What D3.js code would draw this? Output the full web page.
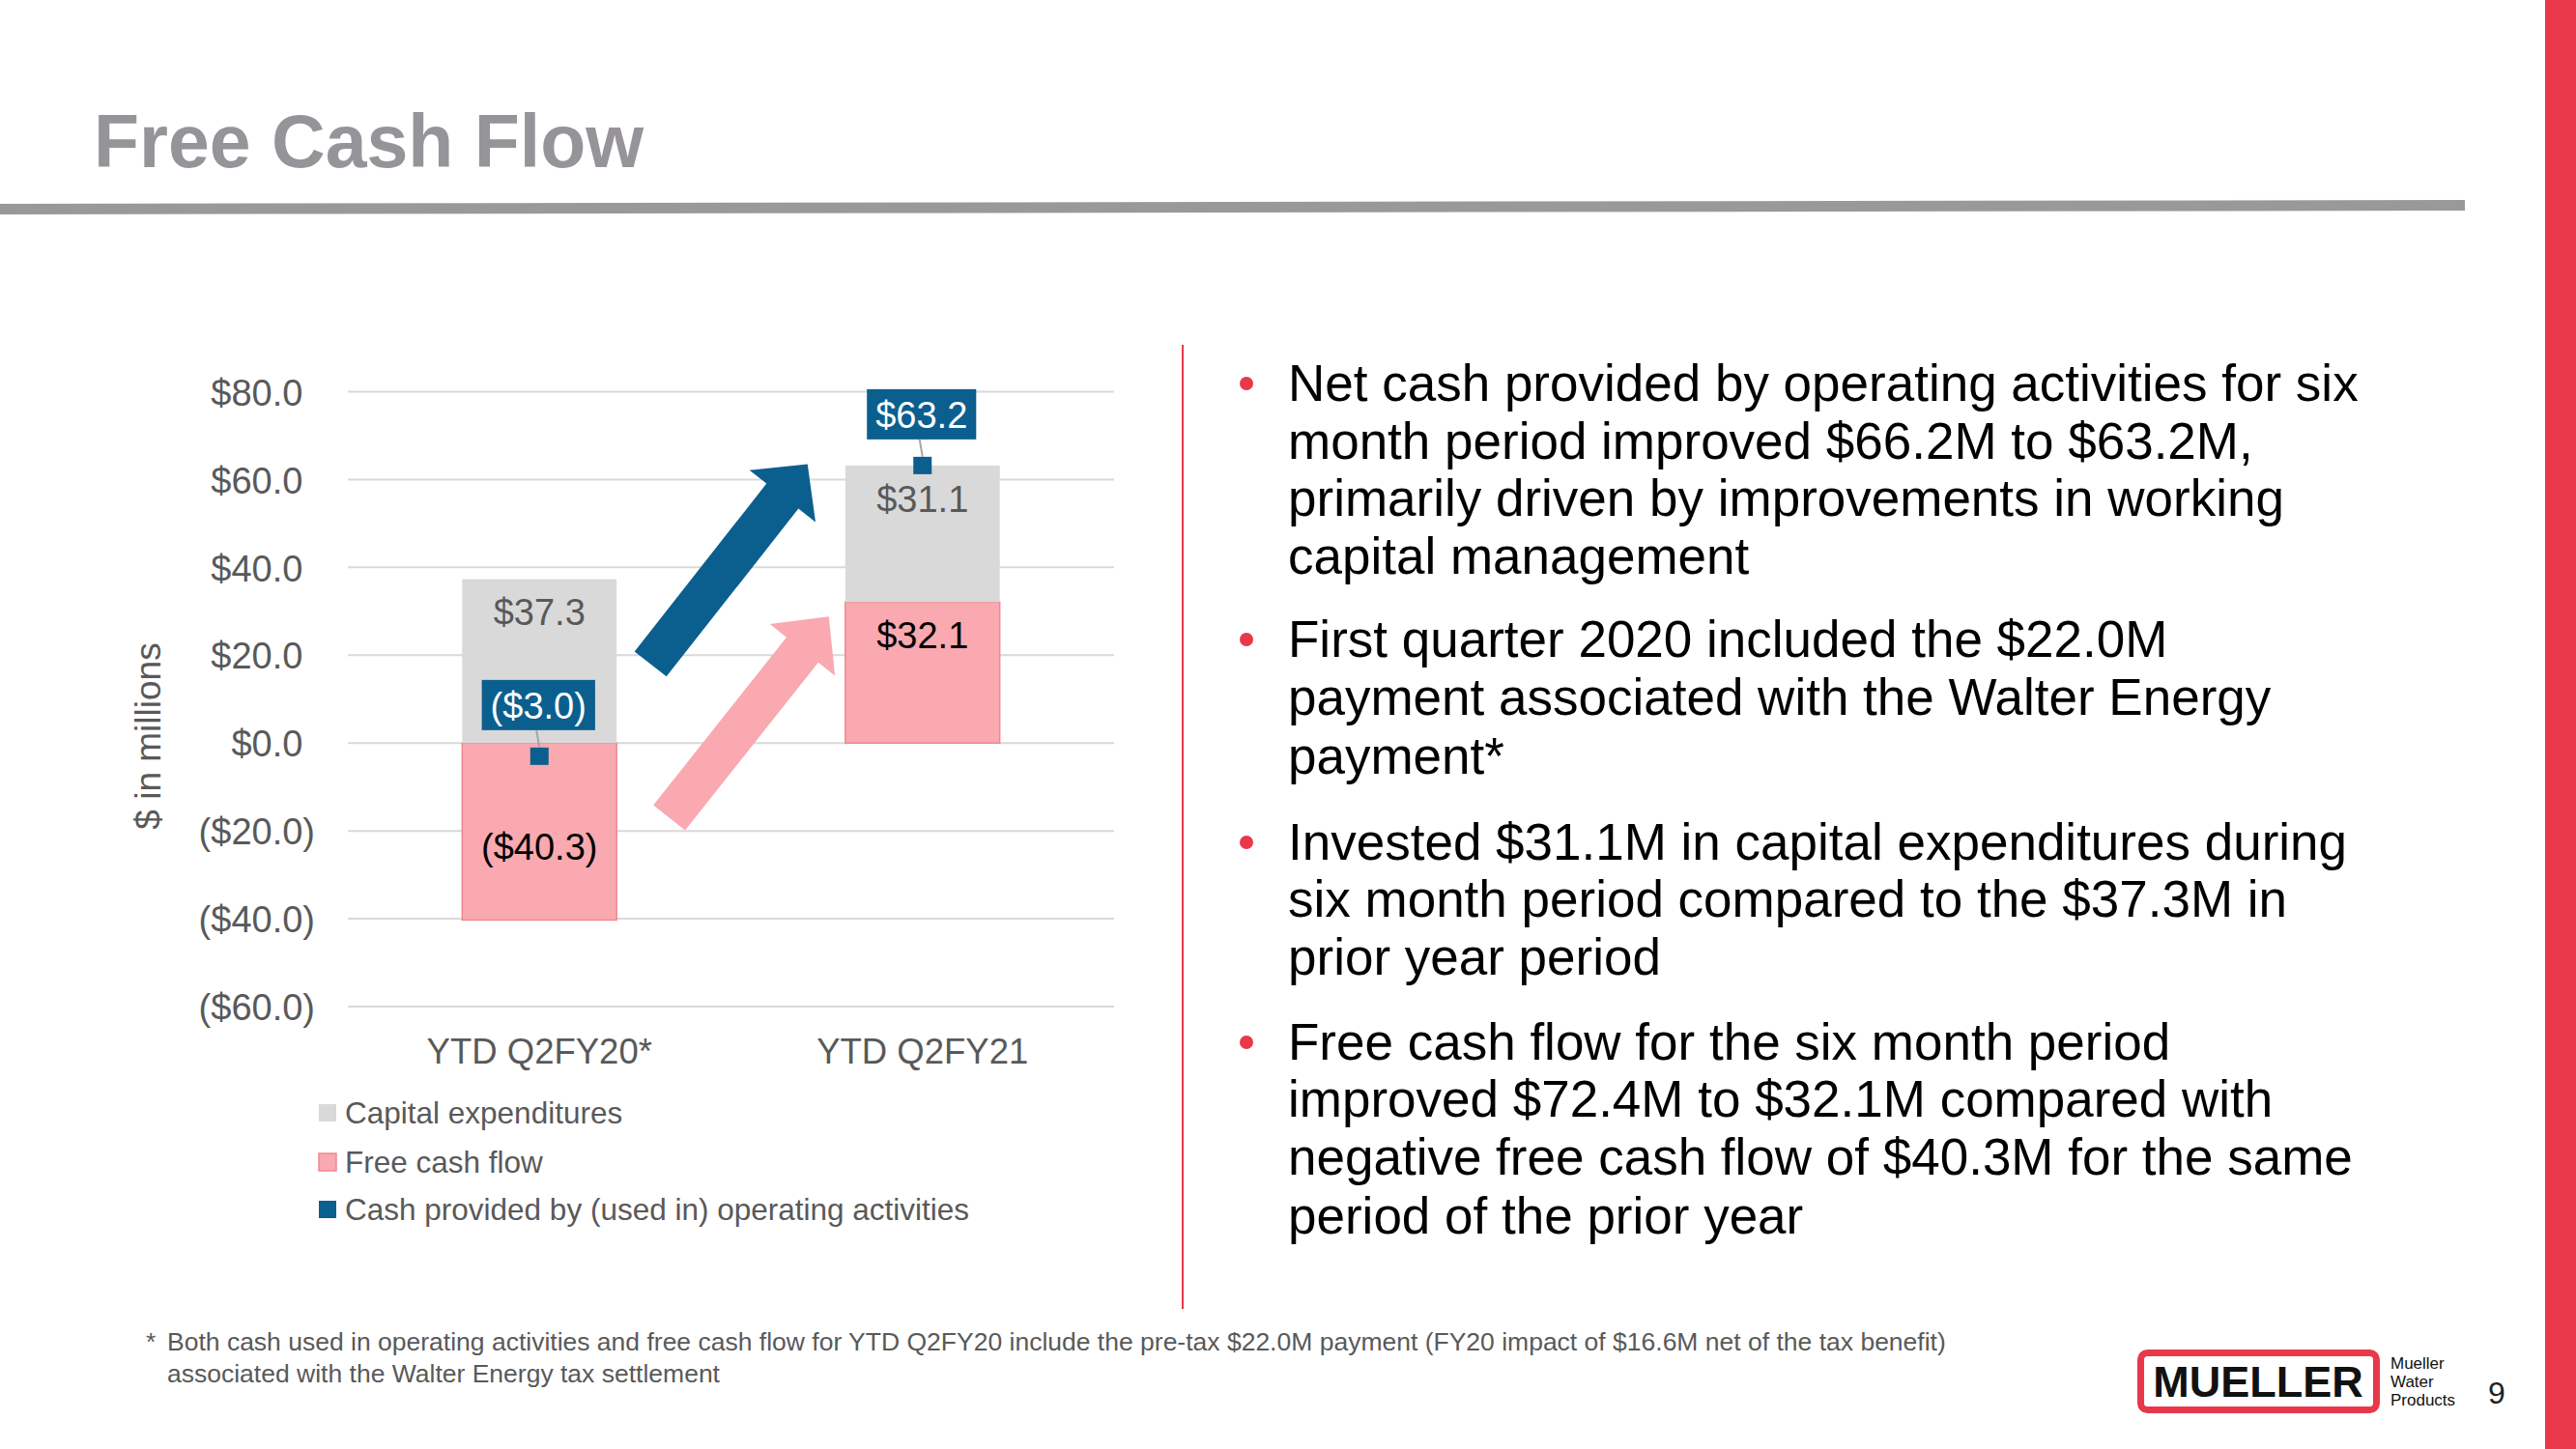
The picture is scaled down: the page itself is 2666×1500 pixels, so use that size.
<!DOCTYPE html>
<html>
<head>
<meta charset="utf-8">
<script src="https://cdn.jsdelivr.net/npm/d3@7"></script>
<style>
  html, body { margin: 0; padding: 0; background: #fff; }
  svg { display: block; }
  text { font-family: "Liberation Sans", Arial, sans-serif; }
</style>
</head>
<body>
<svg id="slide" width="2666" height="1500"></svg>
<script>
// ---------------- DATA ----------------
const categories = ["YTD Q2FY20*", "YTD Q2FY21"];
const capex = [37.3, 31.1];            // Capital expenditures
const freeCashFlow = [-40.3, 32.1];    // Free cash flow
const opCash = [-3.0, 63.2];           // Cash provided by (used in) operating activities
const yTicks = [80, 60, 40, 20, 0, -20, -40, -60];
const seriesNames = ["Capital expenditures", "Free cash flow", "Cash provided by (used in) operating activities"];
const titleText = "Free Cash Flow";
const bullets = [
  ["Net cash provided by operating activities for six", "month period improved $66.2M to $63.2M,", "primarily driven by improvements in working", "capital management"],
  ["First quarter 2020 included the $22.0M", "payment associated with the Walter Energy", "payment*"],
  ["Invested $31.1M in capital expenditures during", "six month period compared to the $37.3M in", "prior year period"],
  ["Free cash flow for the six month period", "improved $72.4M to $32.1M compared with", "negative free cash flow of $40.3M for the same", "period of the prior year"]
];
const footnote = ["Both cash used in operating activities and free cash flow for YTD Q2FY20 include the pre-tax $22.0M payment (FY20 impact of $16.6M net of the tax benefit)",
                  "associated with the Walter Energy tax settlement"];

// ---------------- STYLE ----------------
const C = {
  grey: "#d9d9d9", pink: "#f9a9af", pinkStroke: "#ef8891", blue: "#0b5f8f",
  axisText: "#595959", red: "#e8384a", title: "#969498", rule: "#9a989b"
};

const svg = d3.select("#slide");

// slide chrome
svg.append("rect").attr("x", 2634).attr("y", 0).attr("width", 32).attr("height", 1500).attr("fill", C.red);
svg.append("polygon").attr("points", "0,211 2551,207 2551,218 0,222").attr("fill", C.rule);
svg.append("text").attr("x", 97).attr("y", 173).attr("font-size", 77).attr("font-weight", "bold")
  .attr("fill", C.title).text(titleText);
svg.append("line").attr("x1", 1224).attr("x2", 1224).attr("y1", 357).attr("y2", 1355)
  .attr("stroke", C.red).attr("stroke-width", 2);

// ---------------- CHART ----------------
const fmt = v => v < 0 ? `($${(-v).toFixed(1)})` : `$${v.toFixed(1)}`;

const x = d3.scaleBand().domain(categories).range([360, 1153]).paddingInner(0).paddingOuter(0);
const y = d3.scaleLinear().domain([-60, 80]).range([1042, 405.5]);
const barW = x.step() / 2.48;
const cx = c => x(c) + x.bandwidth() / 2;

const g = svg.append("g");

// gridlines
g.append("g").selectAll("line").data(yTicks).join("line")
  .attr("x1", 360).attr("x2", 1153)
  .attr("y1", d => y(d)).attr("y2", d => y(d))
  .attr("stroke", C.grey).attr("stroke-width", 2);

// y axis labels (Excel style: positives padded by an invisible ")")
const yAxis = d3.axisLeft(y).tickValues(yTicks).tickSize(0).tickPadding(0).tickFormat(fmt);
const ya = g.append("g").attr("transform", "translate(326,0)").call(yAxis);
ya.select(".domain").remove();
ya.selectAll("text").attr("font-size", 38).attr("fill", C.axisText)
  .attr("font-family", "'Liberation Sans', Arial, sans-serif").attr("dy", "0.36em")
  .each(function(d) { if (d >= 0) d3.select(this).append("tspan").attr("fill-opacity", 0).text(")"); });

// x axis labels
const xAxis = d3.axisBottom(x).tickSize(0).tickPadding(0);
const xa = g.append("g").attr("transform", "translate(0,1088)").call(xAxis);
xa.select(".domain").remove();
xa.selectAll("text").attr("font-size", 36.5).attr("fill", C.axisText)
  .attr("font-family", "'Liberation Sans', Arial, sans-serif").attr("dy", "0.36em");

// y axis title
svg.append("text").attr("transform", "translate(166,762) rotate(-90)").attr("text-anchor", "middle")
  .attr("font-size", 37).attr("fill", C.axisText).text("$ in millions");

// stacked bars
const rows = categories.map((c, i) => ({ cat: c, fcf: freeCashFlow[i], capex: capex[i] }));
const stack = d3.stack().keys(["fcf", "capex"]).offset(d3.stackOffsetDiverging)(rows);
const fills = { fcf: C.pink, capex: C.grey };

stack.forEach(layer => {
  g.append("g").selectAll("rect").data(layer).join("rect")
    .attr("x", d => cx(d.data.cat) - barW / 2)
    .attr("width", barW)
    .attr("y", d => y(Math.max(d[0], d[1])))
    .attr("height", d => Math.abs(y(d[0]) - y(d[1])))
    .attr("fill", fills[layer.key])
    .attr("stroke", layer.key === "fcf" ? C.pinkStroke : "none")
    .attr("stroke-width", layer.key === "fcf" ? 1.5 : 0);
});

// arrows (annotations, anchored to the scales)
const gapL = x(categories[0]) + x.bandwidth() / 2 + barW / 2;
const gapR = x(categories[1]) + x.bandwidth() / 2 - barW / 2;
const gx = f => gapL + (gapR - gapL) * f;
function arrow(tail, tip, shaftW, headW, headL, fill) {
  const dx = tip[0] - tail[0], dy = tip[1] - tail[1];
  const L = Math.hypot(dx, dy), ux = dx / L, uy = dy / L, px = -uy, py = ux;
  const bx = tip[0] - ux * headL, by = tip[1] - uy * headL;
  const pts = [
    [tail[0] + px * shaftW / 2, tail[1] + py * shaftW / 2],
    [bx + px * shaftW / 2, by + py * shaftW / 2],
    [bx + px * headW / 2, by + py * headW / 2],
    tip,
    [bx - px * headW / 2, by - py * headW / 2],
    [bx - px * shaftW / 2, by - py * shaftW / 2],
    [tail[0] - px * shaftW / 2, tail[1] - py * shaftW / 2]
  ];
  g.append("polygon").attr("points", pts.map(p => p.join(",")).join(" ")).attr("fill", fill);
}
arrow([gx(0.148), y(18.0)], [gx(0.835), y(63.5)], 42, 87, 42, C.blue);
arrow([gx(0.23), y(-17.0)], [gx(0.928), y(28.8)], 42, 86, 44, C.pink);

// operating cash markers
g.append("g").selectAll("rect").data(opCash).join("rect")
  .attr("x", (d, i) => cx(categories[i]) - 9.5)
  .attr("y", d => y(d) - 9)
  .attr("width", 19).attr("height", 18)
  .attr("fill", C.blue);

// data labels: capex (inside end, grey)
stack[1].forEach((d, i) => {
  g.append("text").attr("x", cx(d.data.cat)).attr("y", y(d[1]) + 34).attr("dy", "0.36em")
    .attr("text-anchor", "middle").attr("font-size", 38).attr("fill", C.axisText).text(fmt(capex[i]));
});
// data labels: free cash flow (black)
stack[0].forEach((d, i) => {
  const v = freeCashFlow[i];
  const ly = v < 0 ? (y(d[0]) + y(d[1])) / 2 + 15 : y(d[1]) + 34;
  g.append("text").attr("x", cx(d.data.cat)).attr("y", ly).attr("dy", "0.36em")
    .attr("text-anchor", "middle").attr("font-size", 38).attr("fill", "#000").text(fmt(v));
});
// data labels: operating cash (white on blue boxes with leader lines)
opCash.forEach((v, i) => {
  const mx = cx(categories[i]) - 1, my = y(v) - 53;
  const t = g.append("text").attr("x", mx).attr("y", my).attr("dy", "0.36em")
    .attr("text-anchor", "middle").attr("font-size", 38).attr("fill", "#fff").text(fmt(v));
  const w = t.node().getComputedTextLength() + 18;
  g.insert("rect", () => t.node()).attr("x", mx - w / 2).attr("y", my - 26).attr("width", w).attr("height", 52)
    .attr("fill", C.blue);
  g.insert("line", () => t.node()).attr("x1", mx - 2).attr("x2", cx(categories[i]))
    .attr("y1", my + 26).attr("y2", y(v) - 9).attr("stroke", "#a6a6a6").attr("stroke-width", 2);
});

// legend
const legendColors = [C.grey, C.pink, C.blue];
const leg = svg.append("g").selectAll("g").data(seriesNames).join("g")
  .attr("transform", (d, i) => `translate(330,${[1152, 1203, 1252][i]})`);
leg.append("rect").attr("x", 0).attr("y", -9).attr("width", 18).attr("height", 18)
  .attr("fill", (d, i) => legendColors[i])
  .attr("stroke", (d, i) => i === 1 ? C.pinkStroke : "none").attr("stroke-width", 1.5);
leg.append("text").attr("x", 27).attr("dy", "0.36em").attr("font-size", 31.5).attr("fill", C.axisText).text(d => d);

// ---------------- BULLETS ----------------
const lineCenters = [[396, 456, 515, 575], [661, 721, 782], [871, 930, 990], [1078, 1137, 1197, 1258]];
bullets.forEach((lines, bi) => {
  svg.append("circle").attr("cx", 1290).attr("cy", lineCenters[bi][0] + 1).attr("r", 7).attr("fill", C.red);
  lines.forEach((ln, li) => {
    svg.append("text").attr("x", 1333).attr("y", lineCenters[bi][li]).attr("dy", "0.36em")
      .attr("font-size", 53).attr("fill", "#000").text(ln);
  });
});

// ---------------- FOOTNOTE ----------------
svg.append("text").attr("x", 151).attr("y", 1398).attr("font-size", 26.5).attr("fill", C.axisText).text("*");
footnote.forEach((t, i) => {
  svg.append("text").attr("x", 173).attr("y", 1398 + i * 33).attr("font-size", 26.5).attr("fill", C.axisText).text(t);
});

// ---------------- LOGO ----------------
svg.append("rect").attr("x", 2215.5).attr("y", 1400.5).attr("width", 244).attr("height", 59).attr("rx", 7)
  .attr("fill", "#fff").attr("stroke", C.red).attr("stroke-width", 7);
svg.append("text").attr("x", 2337).attr("y", 1446).attr("text-anchor", "middle").attr("font-size", 45)
  .attr("font-weight", "bold").attr("fill", "#111").text("MUELLER");
["Mueller", "Water", "Products"].forEach((t, i) => {
  svg.append("text").attr("x", 2474).attr("y", 1417 + i * 19).attr("font-size", 17)
    .attr("font-family", "'Noto Sans', sans-serif").attr("fill", "#111").text(t);
});
svg.append("text").attr("x", 2575).attr("y", 1453).attr("font-size", 32)
  .attr("font-family", "'Noto Sans', sans-serif").attr("fill", "#222").text("9");
</script>
</body>
</html>
